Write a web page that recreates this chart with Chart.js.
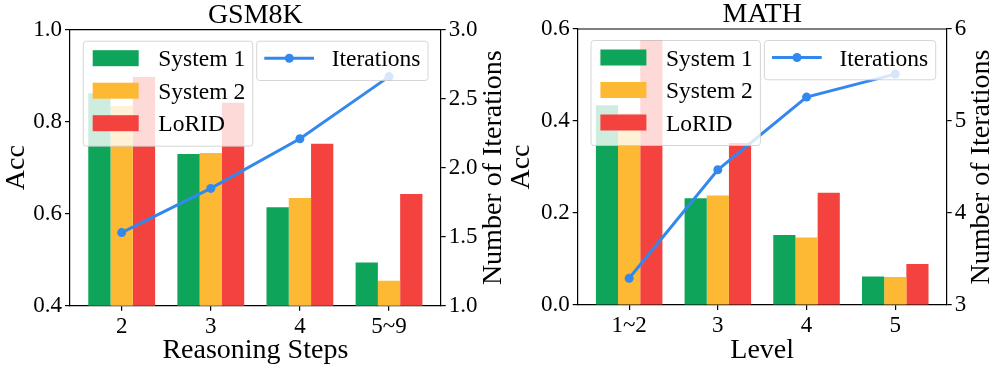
<!DOCTYPE html>
<html lang="en">
<head>
  <meta charset="UTF-8">
  <title>GSM8K / MATH</title>
  <script src="https://cdn.jsdelivr.net/npm/chart.js"></script>
  <style>
    body { margin: 0; padding: 0; background: white; font-family: "Liberation Serif", serif; }
    .wrap { position: relative; width: 997px; height: 369px; overflow: hidden; }
    #left { position: absolute; left: 0; top: 0; }
    #right { position: absolute; left: 500px; top: 0; }
  </style>
</head>
<body>
  <div class="wrap">
    <canvas id="left" width="508" height="369"></canvas>
    <canvas id="right" width="497" height="369"></canvas>
  </div>

  <script>
    // GSM8K: accuracy by number of reasoning steps
    const gsmSteps = ['2', '3', '4', '5~9'];
    const gsmSystem1 = [0.862, 0.730, 0.614, 0.494];
    const gsmSystem2 = [0.834, 0.732, 0.634, 0.454];
    const gsmLorid = [0.897, 0.841, 0.752, 0.643];
    const gsmIterations = [1.53, 1.85, 2.21, 2.66];

    // MATH: accuracy by difficulty level
    const mathLevels = ['1~2', '3', '4', '5'];
    const mathSystem1 = [0.434, 0.232, 0.152, 0.062];
    const mathSystem2 = [0.417, 0.238, 0.147, 0.061];
    const mathLorid = [0.576, 0.352, 0.244, 0.089];
    const mathIterations = [3.29, 4.47, 5.26, 5.51];

    const serif = '"Liberation Serif", "Times New Roman", serif';
    const green = '#0ea55a', orange = '#fdb933', red = '#f4433e', blue = '#3388ee';

    // title, top spine, right axis label and the two legend boxes (matplotlib style)
    const decor = {
      id: 'decor',
      afterDatasetsDraw(chart, args, opts) {
        const ctx = chart.ctx, ca = chart.chartArea;
        ctx.save();
        ctx.strokeStyle = '#000';
        ctx.lineWidth = 1.2;
        ctx.beginPath();
        ctx.moveTo(ca.left, ca.top);
        ctx.lineTo(ca.right, ca.top);
        ctx.stroke();

        ctx.fillStyle = '#000';
        ctx.font = '28px ' + serif;
        ctx.textAlign = 'center';
        ctx.textBaseline = 'alphabetic';
        ctx.fillText(opts.title, (ca.left + ca.right) / 2, ca.top - 7);

        // right y label, reading bottom to top
        ctx.save();
        ctx.translate(opts.iterX, (ca.top + ca.bottom) / 2);
        ctx.rotate(-Math.PI / 2);
        ctx.textBaseline = 'middle';
        ctx.fillText('Number of Iterations', 0, 0);
        ctx.restore();

        function box(x, y, w, h) {
          ctx.beginPath();
          ctx.roundRect(x, y, w, h, 3);
          ctx.fillStyle = 'rgba(255,255,255,0.8)';
          ctx.fill();
          ctx.strokeStyle = 'rgba(204,204,204,0.8)';
          ctx.lineWidth = 1;
          ctx.stroke();
        }

        const bx = ca.left + 13.3, by = ca.top + 11.5;
        box(bx, by, 169.4, 105);
        ctx.font = '23.5px ' + serif;
        ctx.textAlign = 'left';
        ctx.textBaseline = 'alphabetic';
        const bars = chart.data.datasets.filter(d => d.type === 'bar');
        bars.forEach((d, i) => {
          const cy = by + 17 + i * 32.5;
          ctx.fillStyle = d.backgroundColor;
          ctx.fillRect(bx + 9.4, cy - 8, 46, 16);
          ctx.fillStyle = '#000';
          ctx.fillText(d.label, bx + 75, cy + 8);
        });

        const lx = ca.left + 186.7;
        box(lx, by, 171.3, 39.3);
        const line = chart.data.datasets.find(d => d.type === 'line');
        const cy = by + 17;
        ctx.strokeStyle = line.borderColor;
        ctx.lineWidth = 3;
        ctx.beginPath();
        ctx.moveTo(lx + 7.6, cy);
        ctx.lineTo(lx + 57.3, cy);
        ctx.stroke();
        ctx.fillStyle = line.borderColor;
        ctx.beginPath();
        ctx.arc(lx + 32.6, cy, 4.5, 0, Math.PI * 2);
        ctx.fill();
        ctx.fillStyle = '#000';
        ctx.fillText(line.label, lx + 75, cy + 8);
        ctx.restore();
      }
    };

    function makeChart(id, o) {
      const tickFont = { family: serif, size: 23 };
      const titleFont = { family: serif, size: 28 };
      const axisGrid = { drawOnChartArea: false, drawTicks: true, tickLength: 5, color: '#000', lineWidth: 1.2 };
      const pts = arr => arr.map((v, i) => ({ x: i, y: v }));
      return new Chart(document.getElementById(id), {
        data: {
          datasets: [
            { type: 'line', label: 'Iterations', data: pts(o.iter), yAxisID: 'y1', order: 0,
              borderColor: blue, backgroundColor: blue, borderWidth: 3,
              pointRadius: 4.5, pointBackgroundColor: blue, pointBorderWidth: 0 },
            { type: 'bar', label: 'System 1', data: pts(o.s1), backgroundColor: green, order: 1 },
            { type: 'bar', label: 'System 2', data: pts(o.s2), backgroundColor: orange, order: 1 },
            { type: 'bar', label: 'LoRID', data: pts(o.lorid), backgroundColor: red, order: 1 }
          ]
        },
        options: {
          responsive: false,
          animation: false,
          categoryPercentage: 0.75,
          barPercentage: 1.0,
          layout: { padding: { top: o.top, left: 0, right: 0, bottom: 0 } },
          plugins: {
            legend: { display: false },
            tooltip: { enabled: false },
            decor: { title: o.title, iterX: o.iterX }
          },
          scales: {
            x: {
              type: 'linear',
              min: -0.58, max: 3.58,
              offset: false,
              grid: Object.assign({}, axisGrid, { offset: false }),
              border: { color: '#000', width: 1.2 },
              ticks: { stepSize: 1, includeBounds: false, font: tickFont, color: '#000', padding: 2, maxRotation: 0,
                       callback: v => o.labels[v] },
              title: { display: true, text: o.xTitle, font: titleFont, color: '#000', padding: { top: 0, bottom: 2 } },
              afterFit(s) { s.height = o.xHeight; }
            },
            y: {
              position: 'left',
              min: o.yMin, max: o.yMax,
              ticks: { stepSize: 0.2, font: tickFont, color: '#000', padding: 3, callback: v => v.toFixed(1) },
              grid: axisGrid,
              border: { color: '#000', width: 1.2 },
              title: { display: true, text: 'Acc', font: titleFont, color: '#000', padding: { top: o.accPad, bottom: 0 } },
              afterFit(s) { s.width = o.leftWidth; }
            },
            y1: {
              position: 'right',
              min: o.y1Min, max: o.y1Max,
              ticks: { stepSize: o.y1Step, font: tickFont, color: '#000', padding: 3, callback: o.y1Fmt },
              grid: axisGrid,
              border: { color: '#000', width: 1.2 },
              afterFit(s) { s.width = o.rightWidth; }
            }
          }
        },
        plugins: [decor]
      });
    }

    function drawAll() {
      makeChart('left', {
        title: 'GSM8K', labels: gsmSteps, s1: gsmSystem1, s2: gsmSystem2, lorid: gsmLorid, iter: gsmIterations,
        xTitle: 'Reasoning Steps', yMin: 0.4, yMax: 1.0, y1Min: 1, y1Max: 3, y1Step: 0.5,
        y1Fmt: v => v.toFixed(1),
        top: 29.7, xHeight: 63.3, leftWidth: 70, rightWidth: 67.3, accPad: 0, iterX: 494
      });

      makeChart('right', {
        title: 'MATH', labels: mathLevels, s1: mathSystem1, s2: mathSystem2, lorid: mathLorid, iter: mathIterations,
        xTitle: 'Level', yMin: 0, yMax: 0.6, y1Min: 3, y1Max: 6, y1Step: 1,
        y1Fmt: v => v.toFixed(0),
        top: 29, xHeight: 64, leftWidth: 77.7, rightWidth: 50.3, accPad: 5, iterX: 482
      });
    }

    Promise.all([
      document.fonts.load('23px "Liberation Serif"'),
      document.fonts.load('28px "Liberation Serif"')
    ]).then(drawAll, drawAll);
  </script>
</body>
</html>
